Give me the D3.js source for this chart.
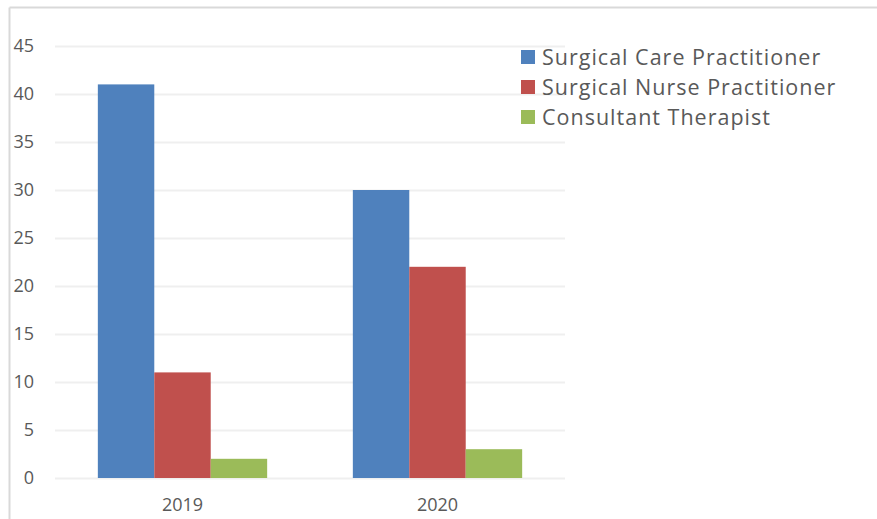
<!DOCTYPE html>
<html>
<head>
<meta charset="utf-8">
<script src="https://cdn.jsdelivr.net/npm/d3@7"></script>
<style>
  body { margin: 0; background: #fff; }
  svg { display: block; }
</style>
</head>
<body>
<svg id="chart" width="877" height="519"></svg>
<script>
const years = ["2019", "2020"];
const seriesNames = ["Surgical Care Practitioner", "Surgical Nurse Practitioner", "Consultant Therapist"];
const seriesColors = ["#4f81bd", "#c0504d", "#9bbb59"];
const careValues = [41, 30];
const nurseValues = [11, 22];
const therapistValues = [2, 3];
const yTicks = [0, 5, 10, 15, 20, 25, 30, 35, 40, 45];

const svg = d3.select("#chart");
const W = 877, H = 519;
const margin = { top: 46, left: 55, right: 312, bottom: 41 };
const plotW = W - margin.left - margin.right;
const plotH = H - margin.top - margin.bottom;

// outer frame (top + left edges visible)
svg.append("line").attr("x1", 9.5).attr("x2", W).attr("y1", 7.5).attr("y2", 7.5)
  .attr("stroke", "#d9d9d9").attr("stroke-width", 2);
svg.append("line").attr("x1", 9.5).attr("x2", 9.5).attr("y1", 7.5).attr("y2", H)
  .attr("stroke", "#d9d9d9").attr("stroke-width", 2);

const g = svg.append("g").attr("transform", `translate(${margin.left},${margin.top})`);

const y = d3.scaleLinear().domain([0, 45]).range([plotH, 0]);
const x0 = d3.scaleBand().domain(years).range([0, plotW]).paddingInner(0.336).paddingOuter(0.168);
const x1 = d3.scaleBand().domain(seriesNames).range([0, x0.bandwidth()]);

// gridlines
g.append("g").selectAll("line").data(yTicks).join("line")
  .attr("x1", 0).attr("x2", plotW)
  .attr("y1", d => Math.round(y(d)) + 0.5).attr("y2", d => Math.round(y(d)) + 0.5)
  .attr("stroke", "#efefef").attr("stroke-width", 2);

const yAxis = g.append("g").attr("transform", "translate(-21,0)")
  .call(d3.axisLeft(y).tickValues(yTicks).tickSize(0).tickPadding(0));
yAxis.select(".domain").remove();
yAxis.selectAll("text").attr("font-family", "Open Sans, sans-serif").attr("font-size", 18).attr("fill", "#595959");

const allValues = [careValues, nurseValues, therapistValues];
const rows = years.map((yr, i) => ({ year: yr, vals: seriesNames.map((s, j) => ({ s, v: allValues[j][i], c: seriesColors[j] })) }));

const groups = g.selectAll(".grp").data(rows).join("g").attr("class", "grp")
  .attr("transform", d => `translate(${x0(d.year)},0)`);
groups.selectAll("rect").data(d => d.vals).join("rect")
  .attr("x", d => x1(d.s))
  .attr("width", x1.bandwidth())
  .attr("y", d => y(d.v))
  .attr("height", d => plotH - y(d.v))
  .attr("fill", d => d.c);

const xAxis = g.append("g").attr("transform", `translate(0,${plotH})`)
  .call(d3.axisBottom(x0).tickSize(0).tickPadding(20));
xAxis.select(".domain").remove();
xAxis.selectAll("text").attr("font-family", "Open Sans, sans-serif").attr("font-size", 18).attr("fill", "#595959");

// legend
const legend = svg.append("g").attr("transform", "translate(521,57)");
const items = legend.selectAll("g").data(seriesNames).join("g")
  .attr("transform", (d, i) => `translate(0,${i * 30})`);
items.append("rect").attr("x", 0).attr("y", -7).attr("width", 14).attr("height", 14)
  .attr("fill", (d, i) => seriesColors[i]);
items.append("text").attr("x", 21).attr("y", 0).attr("dy", "0.36em")
  .attr("font-family", "Open Sans, sans-serif").attr("font-size", 21.5).attr("fill", "#595959")
  .attr("letter-spacing", 1)
  .text(d => d);
</script>
</body>
</html>
